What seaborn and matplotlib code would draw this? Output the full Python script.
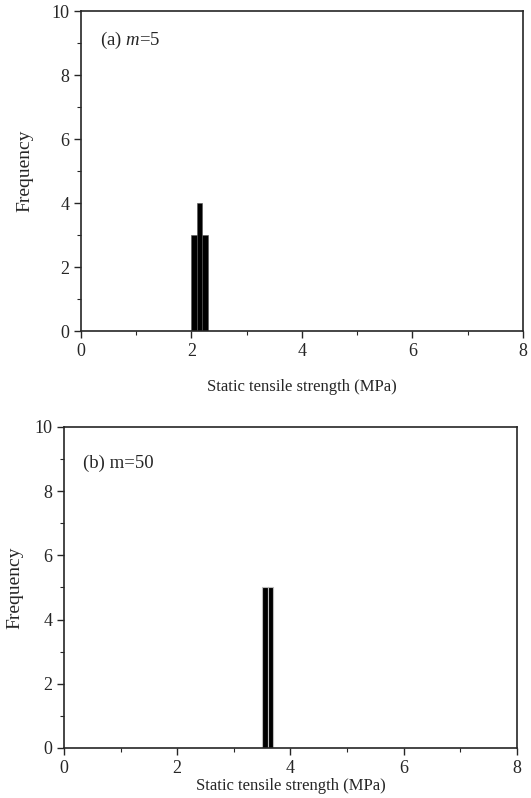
import numpy as np
import pandas as pd
import matplotlib
matplotlib.use("Agg")
import matplotlib.pyplot as plt
import seaborn as sns
from matplotlib.ticker import MultipleLocator

# (a) m=5 : histogram bins and counts
edges_a = [2.0, 2.1, 2.2, 2.3]
counts_a = [3, 4, 3]
# (b) m=50
edges_b = [3.5, 3.6, 3.7]
counts_b = [5, 5]

sns.set_style("ticks")
plt.rcParams['font.family'] = ['Liberation Serif', 'DejaVu Serif']
plt.rcParams['mathtext.fontset'] = 'custom'
plt.rcParams['mathtext.rm'] = 'Liberation Serif'
plt.rcParams['mathtext.it'] = 'Liberation Serif:italic'

fig = plt.figure(figsize=(5.31, 7.98), dpi=100)
ax1 = fig.add_axes([0.1525, 0.585, 0.832, 0.401])
ax2 = fig.add_axes([0.1205, 0.0627, 0.853, 0.4023])


def panel(ax, edges, counts, label, lw, ec, ly):
    centers = [(edges[i] + edges[i + 1]) / 2 for i in range(len(counts))]
    df = pd.DataFrame({'x': centers, 'w': counts})
    sns.histplot(data=df, x='x', weights='w', bins=edges, ax=ax,
                 color='black', alpha=1, edgecolor=ec, linewidth=lw)
    ax.set_xlim(0, 8)
    ax.set_ylim(0, 10)
    ax.xaxis.set_major_locator(MultipleLocator(2))
    ax.xaxis.set_minor_locator(MultipleLocator(1))
    ax.yaxis.set_major_locator(MultipleLocator(2))
    ax.yaxis.set_minor_locator(MultipleLocator(1))
    ax.tick_params(which='major', direction='out', length=5, width=1,
                   labelsize=13)
    ax.tick_params(which='minor', direction='out', length=3, width=0.8)
    for s in ax.spines.values():
        s.set_linewidth(1.2)
    ax.text(0.043, ly, label, transform=ax.transAxes, fontsize=13.5,
            va='center', ha='left')


panel(ax1, edges_a, counts_a, '(a) $m$=5', 0.4, '#555555', 0.909)
panel(ax2, edges_b, counts_b, '(b) m=50', 0.8, '#bbbbbb', 0.888)

ax1.set_ylabel('Frequency', fontsize=14, labelpad=13)
ax2.set_ylabel('Frequency', fontsize=14, labelpad=8)
ax1.set_xlabel('Static tensile strength (MPa)', fontsize=12, labelpad=14)
ax2.set_xlabel('Static tensile strength (MPa)', fontsize=12, labelpad=1)

fig.savefig('out.png', dpi=100)
